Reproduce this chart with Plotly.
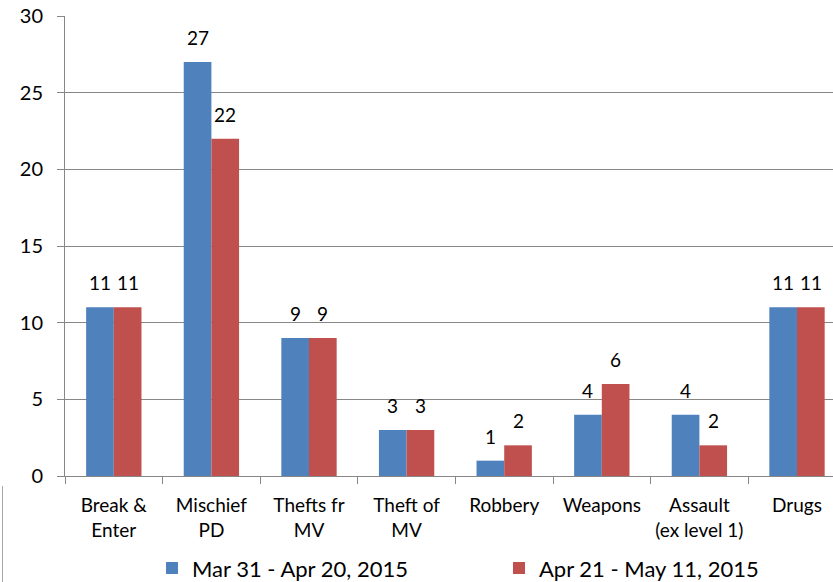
import plotly.graph_objects as go

categories = ["Break &<br>Enter", "Mischief<br>PD", "Thefts fr<br>MV", "Theft of<br>MV",
              "Robbery", "Weapons", "Assault<br>(ex level 1)", "Drugs"]
series1_name = "Mar 31 - Apr 20, 2015"
series2_name = "Apr 21 - May 11, 2015"
series1 = [11, 27, 9, 3, 1, 4, 4, 11]
series2 = [11, 22, 9, 3, 2, 6, 2, 11]
y_ticks = [0, 5, 10, 15, 20, 25, 30]

BLUE = "#4F81BD"
RED = "#C0504D"
GRID = "#878787"
FONT = "Lato"

W, H = 833, 582
ML, MR, MT, MB = 65, 0, 16, 106
plot_w = W - ML - MR
plot_h = H - MT - MB
cat_px = 97.6
x_hi = -0.5 + plot_w / cat_px
bargap = 0.433
bar_px = cat_px * (1 - bargap) / 2

fig = go.Figure()
fig.add_trace(go.Bar(x=categories, y=series1, name=series1_name, legend="legend",
                     showlegend=True, marker=dict(color=BLUE, line=dict(width=0))))
fig.add_trace(go.Bar(x=categories, y=series2, name=series2_name, legend="legend2",
                     showlegend=True, marker=dict(color=RED, line=dict(width=0))))

annotations = []
for vals, sign in ((series1, -1), (series2, 1)):
    for c, v in zip(categories, vals):
        annotations.append(dict(x=c, y=v, xref="x", yref="y", text=str(v),
                                showarrow=False, yanchor="bottom",
                                xshift=sign * bar_px / 2, yshift=11,
                                font=dict(family=FONT, size=19, color="black")))

leg_font = dict(family=FONT, size=22, color="black")
leg_y = -0.155
fig.update_layout(
    width=W, height=H,
    margin=dict(l=ML, r=MR, t=MT, b=MB, autoexpand=False),
    paper_bgcolor="white", plot_bgcolor="white",
    barmode="group", bargap=bargap, bargroupgap=0,
    font=dict(family=FONT, size=19, color="black"),
    annotations=annotations,
    showlegend=True,
    legend=dict(orientation="h", x=(152 - ML) / plot_w, xanchor="left", y=leg_y,
                yanchor="top", font=leg_font),
    legend2=dict(orientation="h", x=(499 - ML) / plot_w, xanchor="left", y=leg_y,
                 yanchor="top", font=leg_font),
    shapes=[dict(type="line", xref="paper", yref="paper",
                 x0=(2.5 - ML) / plot_w, x1=(2.5 - ML) / plot_w,
                 y0=-(486 - (H - MB)) / plot_h, y1=-(H - (H - MB)) / plot_h,
                 line=dict(color="#a6a6a6", width=1))],
)
fig.update_xaxes(type="category", range=[-0.5, x_hi], tickson="boundaries",
                 ticks="outside", ticklen=7, tickcolor=GRID, showline=True,
                 linecolor=GRID, linewidth=1, showgrid=False, tickangle=0,
                 automargin=False, ticklabelstandoff=12,
                 tickfont=dict(family=FONT, size=19, color="black"))
fig.update_yaxes(range=[0, 30], tickvals=y_ticks, ticks="outside", ticklen=7,
                 tickcolor=GRID, showline=True, linecolor=GRID, linewidth=1,
                 showgrid=True, gridcolor=GRID, gridwidth=1, zeroline=False,
                 ticklabelstandoff=10, automargin=False,
                 tickfont=dict(family=FONT, size=20, color="black"))

fig.write_html("out.html", config={"displayModeBar": False},
               post_script="document.body.style.margin='0';document.body.style.overflow='hidden';")
